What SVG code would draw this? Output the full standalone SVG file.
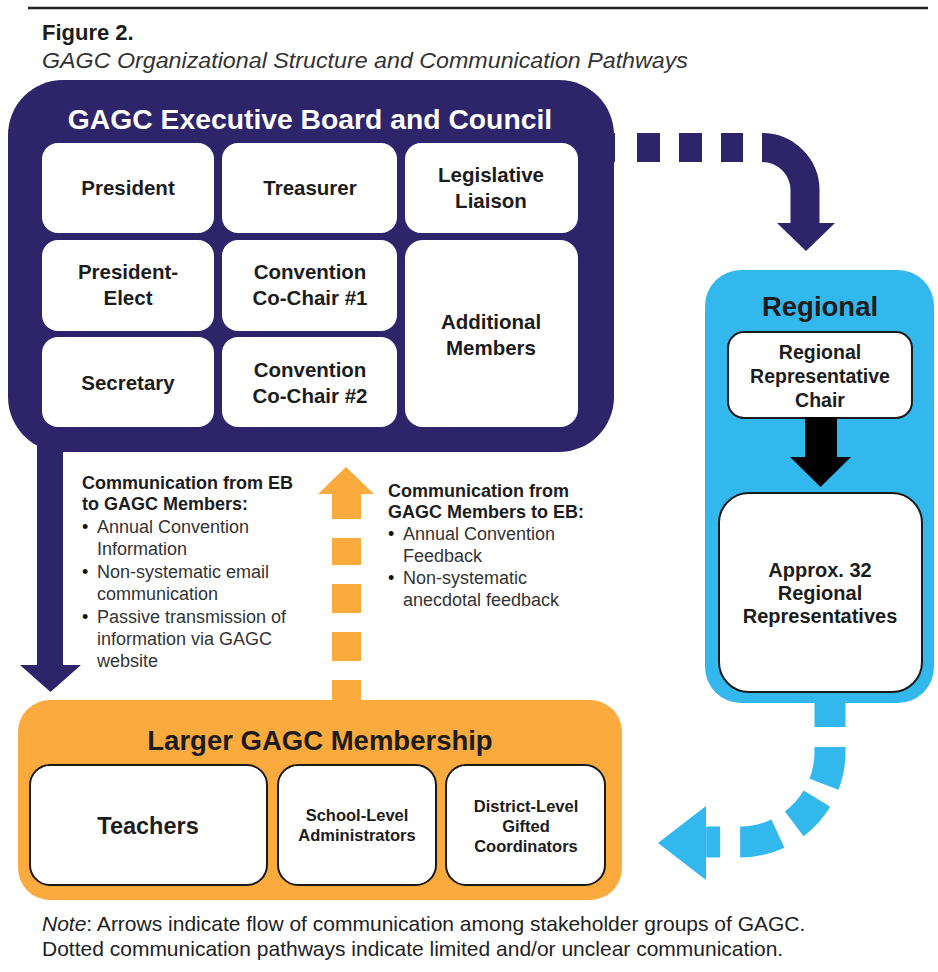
<svg xmlns="http://www.w3.org/2000/svg" width="938" height="972" viewBox="0 0 938 972">
<style>
text{font-family:"Liberation Sans",Arial,Helvetica,sans-serif;fill:#1c1c1c}
.b{font-weight:bold}
.cell{fill:#fff}
.cellk{fill:#fff;stroke:#1a1a1a;stroke-width:2}
.ct{font-weight:bold;font-size:20.5px;text-anchor:middle}
.title{font-weight:bold;font-size:27.5px;text-anchor:middle}
.body{font-size:18px;fill:#333}
.bh{font-size:18px;font-weight:bold;fill:#1c1c1c}
.purple{fill:#2e246a}
.blue{fill:#33b8ee}
.orange{fill:#fbaa3e}
</style>
<rect width="938" height="972" fill="#fff"/>
<line x1="28" y1="8" x2="928" y2="8" stroke="#222" stroke-width="2.5"/>
<text x="42" y="40" class="b" style="font-size:22px">Figure 2.</text>
<text x="42" y="68" style="font-size:22px;font-style:italic;fill:#333" textLength="646" lengthAdjust="spacingAndGlyphs">GAGC Organizational Structure and Communication Pathways</text>

<g id="connectors">
  <g id="eb-to-members">
    <rect x="37" y="430" width="26" height="236" class="purple"/>
    <polygon points="20,665 81,665 50.5,692" class="purple"/>
  </g>
  <g id="members-to-eb" class="orange">
    <polygon points="318,494 374,494 346,467"/>
    <rect x="332" y="493" width="29" height="26"/>
    <rect x="332" y="538" width="29" height="27"/>
    <rect x="332" y="584" width="29" height="29"/>
    <rect x="332" y="632" width="29" height="29"/>
    <rect x="332" y="680" width="29" height="22"/>
  </g>
  <g id="eb-to-regional" class="purple">
    <rect x="605" y="133" width="10" height="29"/>
    <rect x="637" y="133" width="23" height="29"/>
    <rect x="679" y="133" width="23" height="29"/>
    <rect x="721" y="133" width="22" height="29"/>
    <path d="M762 147.5 A43 43 0 0 1 805 190.5 L805 224" fill="none" stroke="#2e246a" stroke-width="29"/>
    <polygon points="777,223 835,223 806,251"/>
  </g>
  <g id="regional-to-members">
    <path d="M830 703 L830 752 A90 90 0 0 1 740 842 L706 842" fill="none" stroke="#33b8ee" stroke-width="31" stroke-dasharray="24 20 38 16 34 19 39 20 14"/>
    <polygon points="706,806 706,880 658,843" class="blue"/>
  </g>
</g>

<g id="executive-board">
  <rect x="8" y="80" width="606" height="372" rx="55" class="purple"/>
  <text x="310" y="129" class="title" style="fill:#fff;font-size:28.3px">GAGC Executive Board and Council</text>
  <g id="president"><rect x="42" y="143" width="172" height="90" rx="16" class="cell"/><text x="128" y="195" class="ct">President</text></g>
  <g id="treasurer"><rect x="222" y="143" width="175" height="90" rx="16" class="cell"/><text x="310" y="195" class="ct">Treasurer</text></g>
  <g id="legislative-liaison"><rect x="405" y="143" width="173" height="90" rx="16" class="cell"/><text x="491" y="182" class="ct">Legislative</text><text x="491" y="208" class="ct">Liaison</text></g>
  <g id="president-elect"><rect x="42" y="240" width="172" height="91" rx="16" class="cell"/><text x="128" y="279" class="ct">President-</text><text x="128" y="305" class="ct">Elect</text></g>
  <g id="convention-cochair-1"><rect x="222" y="240" width="175" height="91" rx="16" class="cell"/><text x="310" y="279" class="ct">Convention</text><text x="310" y="305" class="ct">Co-Chair #1</text></g>
  <g id="additional-members"><rect x="405" y="240" width="173" height="187" rx="18" class="cell"/><text x="491" y="329" class="ct">Additional</text><text x="491" y="355" class="ct">Members</text></g>
  <g id="secretary"><rect x="42" y="337" width="172" height="90" rx="16" class="cell"/><text x="128" y="390" class="ct">Secretary</text></g>
  <g id="convention-cochair-2"><rect x="222" y="337" width="175" height="90" rx="16" class="cell"/><text x="310" y="377" class="ct">Convention</text><text x="310" y="403" class="ct">Co-Chair #2</text></g>
</g>

<g id="regional">
  <rect x="705" y="270" width="229" height="433" rx="36" class="blue"/>
  <text x="820" y="316" class="title">Regional</text>
  <g id="regional-chair"><rect x="728" y="332" width="184" height="86" rx="16" class="cellk"/>
    <text x="820" y="359" class="ct" style="font-size:19.5px">Regional</text>
    <text x="820" y="383" class="ct" style="font-size:19.5px">Representative</text>
    <text x="820" y="407" class="ct" style="font-size:19.5px">Chair</text></g>
  <g id="chair-to-reps"><rect x="805" y="417" width="32" height="41" fill="#000"/><polygon points="790,457 851,457 820.5,487" fill="#000"/></g>
  <g id="regional-reps"><rect x="719" y="493" width="203" height="199" rx="30" class="cellk"/>
    <text x="820" y="577" class="ct" style="font-size:20px">Approx. 32</text>
    <text x="820" y="600" class="ct" style="font-size:20px">Regional</text>
    <text x="820" y="623" class="ct" style="font-size:20px">Representatives</text></g>
</g>

<g id="eb-text">
  <text x="82" y="489" class="bh">Communication from EB</text>
  <text x="82" y="510" class="bh">to GAGC Members:</text>
  <text class="body"><tspan x="82" y="533" style="fill:#111">•</tspan><tspan x="97" y="533">Annual Convention</tspan><tspan x="97" y="555">Information</tspan>
  <tspan x="82" y="578" style="fill:#111">•</tspan><tspan x="97" y="578">Non-systematic email</tspan><tspan x="97" y="600">communication</tspan>
  <tspan x="82" y="623" style="fill:#111">•</tspan><tspan x="97" y="623">Passive transmission of</tspan><tspan x="97" y="645">information via GAGC</tspan><tspan x="97" y="667">website</tspan></text>
</g>
<g id="members-text">
  <text x="388" y="497" class="bh">Communication from</text>
  <text x="388" y="518" class="bh">GAGC Members to EB:</text>
  <text class="body"><tspan x="388" y="540" style="fill:#111">•</tspan><tspan x="403" y="540">Annual Convention</tspan><tspan x="403" y="562">Feedback</tspan>
  <tspan x="388" y="584" style="fill:#111">•</tspan><tspan x="403" y="584">Non-systematic</tspan><tspan x="403" y="606">anecdotal feedback</tspan></text>
</g>

<g id="membership">
  <rect x="18" y="700" width="604" height="200" rx="32" class="orange"/>
  <text x="320" y="750" class="title">Larger GAGC Membership</text>
  <g id="teachers"><rect x="30" y="765" width="237" height="120" rx="20" class="cellk"/><text x="148" y="834" class="ct" style="font-size:23.5px">Teachers</text></g>
  <g id="school-admins"><rect x="278" y="765" width="158" height="120" rx="20" class="cellk"/>
    <text x="357" y="821" class="ct" style="font-size:16.5px">School-Level</text>
    <text x="357" y="841" class="ct" style="font-size:16.5px">Administrators</text></g>
  <g id="district-coordinators"><rect x="446" y="765" width="159" height="120" rx="20" class="cellk"/>
    <text x="526" y="812" class="ct" style="font-size:16.5px">District-Level</text>
    <text x="526" y="832" class="ct" style="font-size:16.5px">Gifted</text>
    <text x="526" y="852" class="ct" style="font-size:16.5px">Coordinators</text></g>
</g>

<text x="42" y="931" style="font-size:21px;fill:#222"><tspan font-style="italic">Note</tspan>: Arrows indicate flow of communication among stakeholder groups of GAGC.</text>
<text x="42" y="956" style="font-size:21px;fill:#222">Dotted communication pathways indicate limited and/or unclear communication.</text>
</svg>
